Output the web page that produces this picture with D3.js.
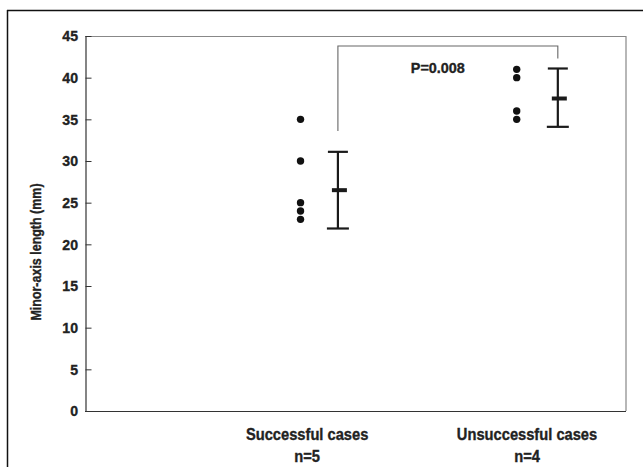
<!DOCTYPE html>
<html><head><meta charset="utf-8">
<script src="https://cdn.jsdelivr.net/npm/d3@7"></script>
<style>
html,body{margin:0;padding:0;background:#fff;}
svg{display:block;font-family:"Liberation Sans",Arial,sans-serif;}
</style></head>
<body><svg id="c" width="643" height="467"></svg>
<script>
const categories = ["Successful cases", "Unsuccessful cases"];
const nLabels = ["n=5", "n=4"];
const successful = [35, 30, 25, 24, 23];
const unsuccessful = [41, 40, 36, 35];
const means = [26.5, 37.5];
const upper = [31.1, 41.1];
const lower = [21.9, 34.1];
const yTicks = [0, 5, 10, 15, 20, 25, 30, 35, 40, 45];
const pLabel = "P=0.008";
const bracket = {top: 43.8, leftEnd: 33.6, rightEnd: 42.3};

const svg = d3.select("#c");
const x = d3.scaleLinear().domain([-0.01, 2.45]).range([85, 626]);
const y = d3.scaleLinear().domain([0, 45]).range([411, 36]);
const ink = "#222";

function condText(px, py, str, size, sx, anchor, rot) {
  return svg.append("text")
    .attr("transform", `translate(${px},${py})${rot ? " rotate(" + rot + ")" : ""} scale(${sx},1)`)
    .attr("text-anchor", anchor || "middle")
    .attr("font-size", size).attr("font-weight", "bold").attr("fill", ink)
    .attr("stroke", ink).attr("stroke-width", 0.35).text(str);
}

// outer frame (top and left)
svg.append("line").attr("x1",7).attr("x2",643).attr("y1",10.5).attr("y2",10.5).attr("stroke","#111").attr("stroke-width",1.5);
svg.append("line").attr("x1",7.5).attr("x2",7.5).attr("y1",10).attr("y2",467).attr("stroke","#111").attr("stroke-width",1.5);

// plot box top/right (gray)
svg.append("path").attr("d",`M${x.range()[0]},${y(45)+0.5}H${x.range()[1]}V${y(0)}`)
  .attr("fill","none").attr("stroke","#888").attr("stroke-width",1.2);
svg.append("line").attr("x1",x.range()[0]).attr("x2",x.range()[1]).attr("y1",y(0)+0.5).attr("y2",y(0)+0.5).attr("stroke","#333").attr("stroke-width",1.2);

// y axis
const yAxis = d3.axisLeft(y).tickValues(yTicks).tickSizeInner(-6).tickSizeOuter(0).tickPadding(0).tickFormat(()=>"");
const ga = svg.append("g").attr("transform",`translate(${x.range()[0]+0.5},0)`).call(yAxis);
ga.select(".domain").attr("stroke","#333").attr("stroke-width",1.2);
ga.selectAll(".tick line").attr("stroke","#333").attr("stroke-width",1);
yTicks.forEach(t => {
  condText(78, y(t) + 5.3, String(t), 15, 0.94, "end");
});

// y title
condText(40.5, 252, "Minor-axis length (mm)", 14.5, 0.86, "middle", -90);

// category labels
categories.forEach((c,i)=>{
  condText(x(i+1), 440, c, 16.5, 0.89);
  condText(x(i+1), 462, nLabels[i], 16.5, 0.89);
});

// dots
const dotOff = [-0.03, -0.047];
[successful, unsuccessful].forEach((arr,i)=>{
  svg.selectAll(null).data(arr).enter().append("circle")
    .attr("cx",x(i+1+dotOff[i])).attr("cy",d=>y(d)).attr("r",3.7).attr("fill","#111");
});

// error bars
const ebOff = 0.14;
means.forEach((m,i)=>{
  const cx = x(i+1+ebOff);
  const g = svg.append("g").attr("stroke","#1a1a1a");
  g.append("line").attr("x1",cx).attr("x2",cx).attr("y1",y(upper[i])).attr("y2",y(lower[i])).attr("stroke-width",2.2);
  g.append("line").attr("x1",cx-10).attr("x2",cx+10).attr("y1",y(upper[i])).attr("y2",y(upper[i])).attr("stroke-width",2.2);
  g.append("line").attr("x1",cx-11).attr("x2",cx+11).attr("y1",y(lower[i])).attr("y2",y(lower[i])).attr("stroke-width",2.2);
  g.append("line").attr("x1",cx-6).attr("x2",cx+9).attr("y1",y(m)).attr("y2",y(m)).attr("stroke-width",4);
});

// significance bracket
const bx1 = x(1+ebOff), bx2 = x(2+ebOff);
svg.append("path").attr("d",`M${bx1},${y(bracket.leftEnd)}V${y(bracket.top)}H${bx2}V${y(bracket.rightEnd)}`)
  .attr("fill","none").attr("stroke","#666").attr("stroke-width",1.1);
condText((bx1+bx2)/2 - 10, 73, pLabel, 15, 0.96);
</script></body></html>
